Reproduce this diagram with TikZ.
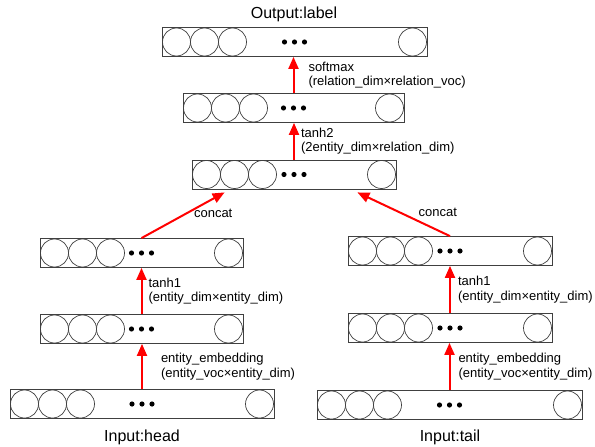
\documentclass[tikz,border=0pt]{standalone}
\usepackage{fontspec}
\setmainfont{Liberation Sans}
\usetikzlibrary{arrows.meta}
\renewcommand\small{\fontsize{13pt}{14.5pt}\selectfont}
\renewcommand\large{\fontsize{16pt}{19pt}\selectfont}

\begin{document}
\begin{tikzpicture}[x=1pt, y=-1pt, >={Triangle[width=10pt,length=12pt]},
  every node/.style={font=\small},
  layer/.style={draw=black!75, line width=0.8pt, minimum height=29pt, inner sep=0pt,
    path picture={
      \foreach \k in {1,3,5}
        \draw[black!75, line width=0.7pt] ([xshift={\k*14pt+0.5pt}]path picture bounding box.west) circle (14pt);
      \draw[black!75, line width=0.7pt] ([xshift=-14.5pt]path picture bounding box.east) circle (14pt);
      \foreach \d in {-10,0,10}
        \fill ([xshift=\d pt]path picture bounding box.center) circle (2.6pt);
    }},
  flow/.style={->, red, line width=2pt},
  lbl/.style={align=left, inner sep=0pt, text=black},
  title/.style={font=\large}]
  \useasboundingbox (0,0) rectangle (595,447);

  \node[layer, minimum width=265pt] (out) at (294.5,42) {};
  \node[layer, minimum width=221pt] (rel) at (293.5,108) {};
  \node[layer, minimum width=204pt] (cat) at (294,174.5) {};
  \node[layer, minimum width=203pt] (hidh) at (141.5,253) {};
  \node[layer, minimum width=203pt] (embh) at (141.5,329) {};
  \node[layer, minimum width=264pt] (inh) at (142,404) {};
  \node[layer, minimum width=204pt] (hidt) at (450,251) {};
  \node[layer, minimum width=204pt] (embt) at (450,328) {};
  \node[layer, minimum width=265pt] (int) at (449.5,405) {};

  \node[title] (otitle) at (294,14) {Output:label};
  \node[title] (htitle) at (142,437) {Input:head};
  \node[title] (ttitle) at (450,437) {Input:tail};

  \coordinate (catl) at ([xshift=33pt,yshift=-3pt]cat.south west);
  \coordinate (catr) at ([xshift=-39pt,yshift=-3pt]cat.south east);

  \draw[flow] (rel.north) -- (rel.north |- out.south)
    node[lbl, midway, right=14pt] {softmax\\(relation\_dim×relation\_voc)};
  \draw[flow] (cat.north) -- (cat.north |- rel.south)
    node[lbl, midway, right=6pt] {tanh2\\(2entity\_dim×relation\_dim)};
  \draw[flow] (hidh.north) -- (catl) node[lbl, midway, right=10pt, yshift=2pt] {concat};
  \draw[flow] (hidt.north) -- (catr) node[lbl, midway, right=14pt, yshift=2pt] {concat};
  \draw[flow] (embh.north) -- (embh.north |- hidh.south)
    node[lbl, midway, right=6pt] {tanh1\\(entity\_dim×entity\_dim)};
  \draw[flow] (embt.north) -- (embt.north |- hidt.south)
    node[lbl, midway, right=7pt] {tanh1\\(entity\_dim×entity\_dim)};
  \draw[flow] (inh.north) -- (inh.north |- embh.south)
    node[lbl, midway, right=18pt] {entity\_embedding\\(entity\_voc×entity\_dim)};
  \draw[flow] (int.north) -- (int.north |- embt.south)
    node[lbl, midway, right=8pt] {entity\_embedding\\(entity\_voc×entity\_dim)};
\end{tikzpicture}
\end{document}
